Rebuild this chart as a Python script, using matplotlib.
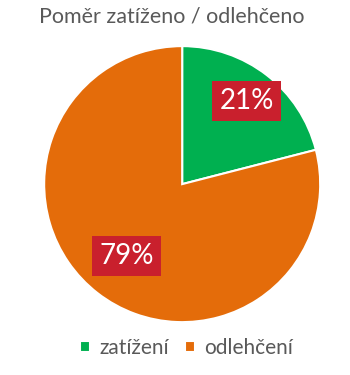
import numpy as np
import matplotlib
matplotlib.use('Agg')
import matplotlib.pyplot as plt

title = 'Poměr zatíženo / odlehčeno'
categories = ['zatížení', 'odlehčení']
values = [21, 79]
colors = ['#00B050', '#E46C0A']

plt.rcParams['font.family'] = ['Lato', 'DejaVu Sans']
text_color = '#595959'

fig = plt.figure(figsize=(3.5, 3.75), dpi=100)
ax = fig.add_axes([0.126, 0.141, 0.789, 0.736])

wedges, _ = ax.pie(values, colors=colors, startangle=90, counterclock=False,
                   wedgeprops=dict(edgecolor='white', linewidth=1.5))
ax.set_aspect('equal')
ax.set_xlim(-1, 1)
ax.set_ylim(-1, 1)

# percentage labels in red boxes
label_dist = [0.76, 0.66]
for w, v, d in zip(wedges, values, label_dist):
    ang = np.deg2rad((w.theta1 + w.theta2) / 2)
    ax.text(d * np.cos(ang), d * np.sin(ang), f'{v}%', ha='center', va='center',
            color='white', fontsize=20,
            bbox=dict(boxstyle='square,pad=0.25', facecolor='#C9202D', edgecolor='none'))

fig.text(0.49, 0.955, title, ha='center', va='center', fontsize=15.5, color=text_color)

fig.legend(wedges, categories, loc='center', bbox_to_anchor=(0.533, 0.072), ncol=2,
           frameon=False, fontsize=15, labelcolor=text_color, handlelength=0.45,
           handleheight=0.45, handletextpad=0.45, columnspacing=0.8)

fig.savefig('out.png', dpi=100)
